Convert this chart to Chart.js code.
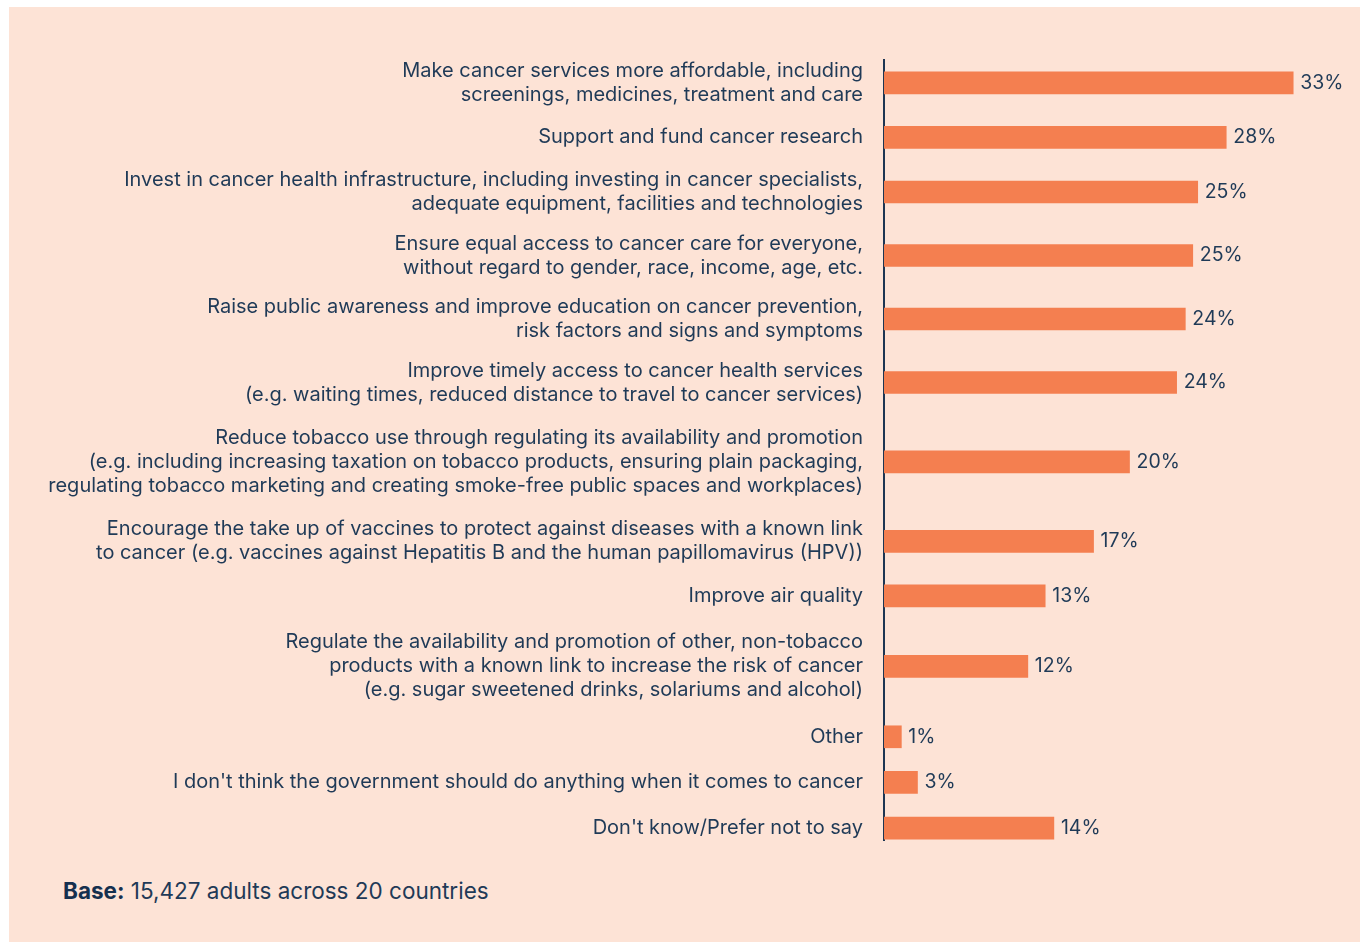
<!DOCTYPE html>
<html>
<head>
<meta charset="utf-8">
<script src="https://cdn.jsdelivr.net/npm/chart.js@4.4.0/dist/chart.umd.min.js"></script>
<style>
  body { margin: 0; background: #fff; }
  #card { position: absolute; left: 9px; top: 7px; width: 1351px; height: 935px; background: #fde3d6; }
  #wrap { position: absolute; left: 0; top: 0; width: 1351px; height: 850px; }
  #base { position: absolute; left: 54px; top: 870px; font-family: Inter, sans-serif; font-size: 22.5px; color: #1f3a57; }
  #base b { color: #15304f; }
</style>
</head>
<body>
<div id="card">
  <div id="wrap"><canvas id="chart"></canvas></div>
  <div id="base"><b>Base:</b> 15,427 adults across 20 countries</div>
</div>
<script>
const categories = [
    ['Make cancer services more affordable, including', 'screenings, medicines, treatment and care'],
    ['Support and fund cancer research'],
    ['Invest in cancer health infrastructure, including investing in cancer specialists,', 'adequate equipment, facilities and technologies'],
    ['Ensure equal access to cancer care for everyone,', 'without regard to gender, race, income, age, etc.'],
    ['Raise public awareness and improve education on cancer prevention,', 'risk factors and signs and symptoms'],
    ['Improve timely access to cancer health services', '(e.g. waiting times, reduced distance to travel to cancer services)'],
    ['Reduce tobacco use through regulating its availability and promotion', '(e.g. including increasing taxation on tobacco products, ensuring plain packaging,', 'regulating tobacco marketing and creating smoke-free public spaces and workplaces)'],
    ['Encourage the take up of vaccines to protect against diseases with a known link', 'to cancer (e.g. vaccines against Hepatitis B and the human papillomavirus (HPV))'],
    ['Improve air quality'],
    ['Regulate the availability and promotion of other, non-tobacco', 'products with a known link to increase the risk of cancer', '(e.g. sugar sweetened drinks, solariums and alcohol)'],
    ['Other'],
    ['I don\'t think the government should do anything when it comes to cancer'],
    ['Don\'t know/Prefer not to say']
];
const values = [33.0, 27.6, 25.3, 24.9, 24.3, 23.6, 19.8, 16.9, 13.0, 11.6, 1.4, 2.7, 13.7];
const valueLabels = ['33%', '28%', '25%', '25%', '24%', '24%', '20%', '17%', '13%', '12%', '1%', '3%', '14%'];

const textColor = '#1f3a57';
const barColor = '#f47f50';
const fontFamily = 'Inter, sans-serif';

// row slot height by number of label lines; rows are spaced by half of each neighbour's slot
const slotByLines = { 1: 46, 2: 64, 3: 96 };
const positions = [];
categories.forEach((lines, i) => {
    if (i === 0) { positions.push(0); return; }
    const prev = slotByLines[categories[i - 1].length];
    positions.push(positions[i - 1] + (prev + slotByLines[lines.length]) / 2);
});

const valueLabelPlugin = {
    id: 'valueLabels',
    afterDatasetsDraw(chart) {
        const ctx = chart.ctx;
        const meta = chart.getDatasetMeta(0);
        ctx.save();
        ctx.font = '19.5px ' + fontFamily;
        ctx.fillStyle = textColor;
        ctx.textBaseline = 'middle';
        meta.data.forEach((bar, i) => {
            ctx.fillText(valueLabels[i], bar.x + 7, bar.y);
        });
        ctx.restore();
    }
};

new Chart(document.getElementById('chart'), {
    type: 'bar',
    data: {
        datasets: [{
            data: values.map((v, i) => ({ x: v, y: positions[i] })),
            backgroundColor: barColor,
            barThickness: 22
        }]
    },
    options: {
        indexAxis: 'y',
        responsive: true,
        maintainAspectRatio: false,
        animation: false,
        layout: { padding: { top: 53, bottom: 17, right: 11, left: 0 } },
        plugins: { legend: { display: false }, tooltip: { enabled: false } },
        scales: {
            x: { type: 'linear', display: false, min: 0, max: 37.5 },
            y: {
                type: 'linear',
                reverse: true,
                offset: false,
                bounds: 'data',
                min: -23,
                max: positions[positions.length - 1] + 12,
                grid: { display: false, drawTicks: false },
                border: { display: true, color: '#1d3552', width: 2 },
                afterBuildTicks: scale => {
                    scale.ticks = positions.map(v => ({ value: v }));
                },
                afterFit: scale => {
                    scale.width = 875;
                    scale.paddingTop = 0;
                    scale.paddingBottom = 0;
                },
                ticks: {
                    autoSkip: false,
                    padding: 21,
                    color: textColor,
                    font: { family: fontFamily, size: 20, lineHeight: 1.2 },
                    callback: (value, index) => categories[index]
                }
            }
        }
    },
    plugins: [valueLabelPlugin]
});
</script>
</body>
</html>
